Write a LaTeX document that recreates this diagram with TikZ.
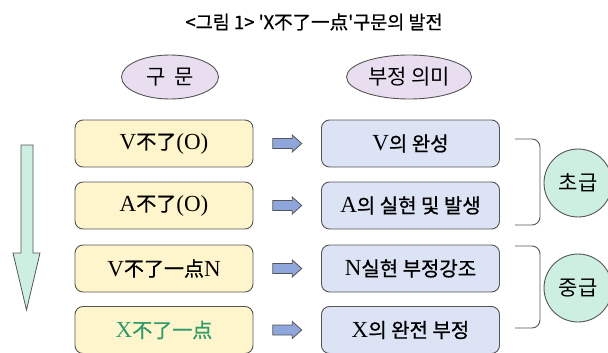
\documentclass[tikz,border=0pt]{standalone}
\usepackage{fontspec}
\setmainfont{Liberation Serif}
\newfontfamily\kr{Noto Sans CJK KR}
\newfontfamily\krb[FakeBold=0.8]{Noto Sans CJK KR}
\usetikzlibrary{shapes.geometric,calc}
\definecolor{boxline}{HTML}{555555}
\definecolor{yfill}{HTML}{FFF5CC}
\definecolor{bfill}{HTML}{DCE3F5}
\definecolor{efill}{HTML}{E8DEEF}
\definecolor{mint}{HTML}{CDEFE1}
\definecolor{arrfill}{HTML}{8EA6DB}
\definecolor{gtext}{HTML}{2F9A6A}
\newcommand{\lat}[1]{{\rmfamily\fontsize{23}{23}\selectfont #1}}
\tikzset{
  lbox/.style={draw=boxline, line width=0.9pt, fill=yfill, rounded corners=8pt, minimum width=178pt, minimum height=47pt, inner sep=0pt, font=\krb\fontsize{20}{20}\selectfont},
  rbox/.style={lbox, fill=bfill},
  oval/.style={ellipse, draw=boxline, line width=0.9pt, fill=efill, minimum height=44pt, inner sep=0pt, font=\kr\fontsize{21}{21}\selectfont},
  level/.style={circle, draw=boxline, line width=0.9pt, fill=mint, minimum size=68pt, inner sep=0pt, font=\kr\fontsize{21}{21}\selectfont},
  smallarr/.style={draw=boxline, line width=0.8pt, fill=arrfill},
  bigarr/.style={draw=boxline, line width=0.8pt, fill=mint},
  brack/.style={draw=boxline, line width=0.9pt, rounded corners=8pt}
}
\begin{document}
\begin{tikzpicture}[x=1pt, y=-1pt]
\useasboundingbox (0,0) rectangle (608,353);
\node[font=\krb\fontsize{18.5}{18.5}\selectfont] (title) at (314,22) {<그림 1> 'X不了一点'구문의 발전};
\node[oval, minimum width=97pt] (e1) at (170,77) {구\hspace{0.4em}문};
\node[oval, minimum width=125pt] (e2) at (409,77) {부정 의미};

\node[lbox] (l1) at (164,143.5) {\lat{V}不了\lat{(O)}};
\node[lbox] (l2) at (164,205.5) {\lat{A}不了\lat{(O)}};
\node[lbox] (l3) at (164,268.5) {\lat{V}不了一点\lat{N}};
\node[lbox, text=gtext] (l4) at (164,330) {\lat{X}不了一点};

\node[rbox] (r1) at (410.5,143.5) {\lat{V}의 완성};
\node[rbox] (r2) at (410.5,205.5) {\lat{A}의 실현 및 발생};
\node[rbox] (r3) at (410.5,268.5) {\lat{N}실현 부정강조};
\node[rbox] (r4) at (410.5,330) {\lat{X}의 완전 부정};

\foreach \i in {1,2,3,4}{
  \draw[smallarr, shift={($(l\i.east)!0.5!(r\i.west)$)}]
    (-14.5,-5) -- (5,-5) -- (5,-8.5) -- (14.5,0) -- (5,8.5) -- (5,5) -- (-14.5,5) -- cycle;
}

\draw[bigarr] (21,145) -- (33,145) -- (33,253) -- (40,253) -- (26.5,310) -- (13,253) -- (21,253) -- cycle;

\coordinate (b1t) at (515,139);
\coordinate (b1b) at (515,225);
\coordinate (b2t) at (515,246);
\coordinate (b2b) at (515,328);
\draw[brack] (b1t) -- (540,139) -- (540,225) -- (b1b);
\draw[brack] (b2t) -- (540,246) -- (540,328) -- (b2b);

\node[level] (c1) at (578,183) {초급};
\node[level] (c2) at (578,288) {중급};
\end{tikzpicture}
\end{document}
